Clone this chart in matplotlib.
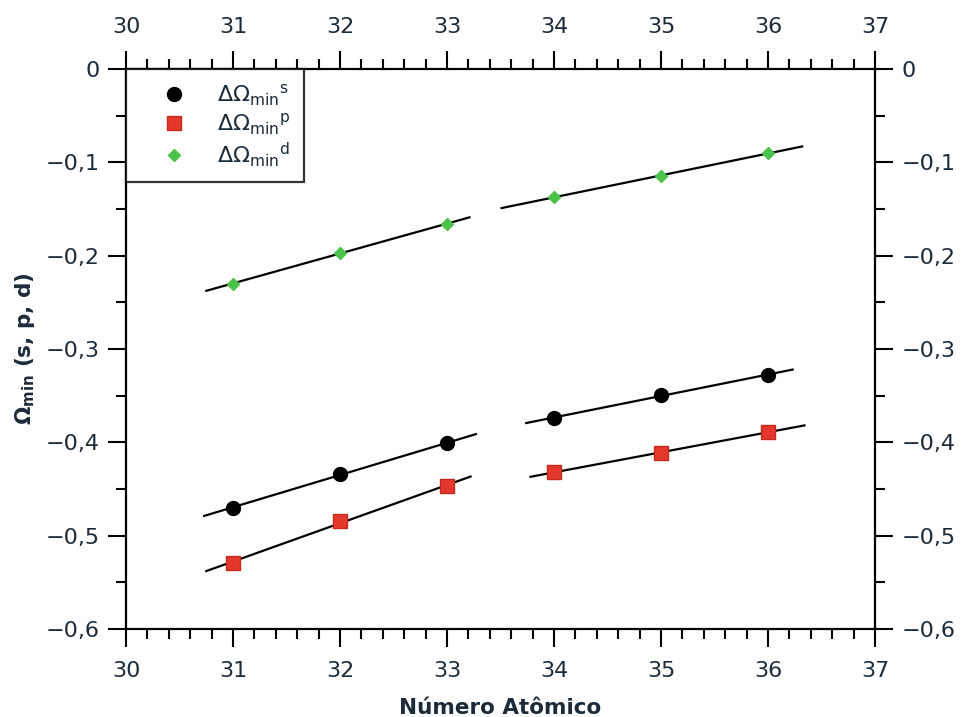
import matplotlib.pyplot as plt
import numpy as np
from matplotlib.ticker import MultipleLocator, FuncFormatter

# atomic numbers and minimum values read for each orbital channel
z = [31, 32, 33, 34, 35, 36]
omega_s = [-0.470, -0.434, -0.401, -0.374, -0.349, -0.328]
omega_p = [-0.529, -0.484, -0.447, -0.432, -0.411, -0.389]
omega_d = [-0.230, -0.197, -0.166, -0.137, -0.115, -0.090]

# the fits are done separately for 31-33 and 34-36
fit_span_s = [(30.73, 33.27), (33.74, 36.23)]
fit_span_p = [(30.75, 33.22), (33.78, 36.34)]
fit_span_d = [(30.75, 33.21), (33.51, 36.32)]

txt = '#1c2b3a'
plt.rcParams['font.family'] = 'DejaVu Sans'
plt.rcParams['mathtext.fontset'] = 'dejavusans'

fig = plt.figure(figsize=(9.62, 7.17), dpi=100)
ax = fig.add_axes([0.131, 0.1227, 0.7786, 0.7811])

def fit_lines(x, y, spans):
    x = np.array(x)
    y = np.array(y)
    for k, (a, b) in enumerate(spans):
        sel = slice(3 * k, 3 * k + 3)
        m, c = np.polyfit(x[sel], y[sel], 1)
        xx = np.array([a, b])
        ax.plot(xx, m * xx + c, color='black', lw=1.6, zorder=2)

fit_lines(z, omega_s, fit_span_s)
fit_lines(z, omega_p, fit_span_p)
fit_lines(z, omega_d, fit_span_d)

ax.plot(z, omega_s, 'o', color='black', ms=10, ls='none', zorder=3,
        label=r'$\Delta\Omega_{\rm min}{}^{\rm s}$')
ax.plot(z, omega_p, 's', color='#e5382c', mec='#c42a20', ms=10, ls='none', zorder=3,
        label=r'$\Delta\Omega_{\rm min}{}^{\rm p}$')
ax.plot(z, omega_d, 'D', color='#4cc24a', mec='#4cc24a', ms=6, ls='none', zorder=3,
        label=r'$\Delta\Omega_{\rm min}{}^{\rm d}$')

ax.set_xlim(30, 37)
ax.set_ylim(-0.6, 0)

ax.xaxis.set_major_locator(MultipleLocator(1))
ax.xaxis.set_minor_locator(MultipleLocator(0.2))
ax.yaxis.set_major_locator(MultipleLocator(0.1))
ax.yaxis.set_minor_locator(MultipleLocator(0.05))

def comma(v, pos):
    s = '%g' % round(v, 2)
    if s == '-0':
        s = '0'
    return s.replace('.', ',').replace('-', '\u2212')

ax.yaxis.set_major_formatter(FuncFormatter(comma))

ax.tick_params(which='both', direction='out', top=True, right=True,
               labeltop=True, labelright=True, width=1.5, colors='black',
               labelcolor=txt, labelsize=16)
ax.tick_params(which='major', length=13, pad=6)
ax.tick_params(axis='x', which='major', pad=10)
ax.tick_params(which='minor', length=7)
for sp in ax.spines.values():
    sp.set_linewidth(1.6)

ax.set_xlabel('Número Atômico', fontsize=15.5, fontweight='bold', color=txt, labelpad=12)
ax.set_ylabel(r'$\mathbf{\Omega_{min}}$ (s, p, d)', fontsize=15.5, fontweight='bold',
              color=txt, labelpad=6)

leg = ax.legend(loc='upper left', borderaxespad=0, fancybox=False, frameon=True,
                edgecolor='black', fontsize=16, handletextpad=0.4,
                handlelength=3.1, labelspacing=0.15, borderpad=0.6)
leg.get_frame().set_linewidth(1.6)
for t in leg.get_texts():
    t.set_color(txt)

fig.savefig('out.png', dpi=100)
